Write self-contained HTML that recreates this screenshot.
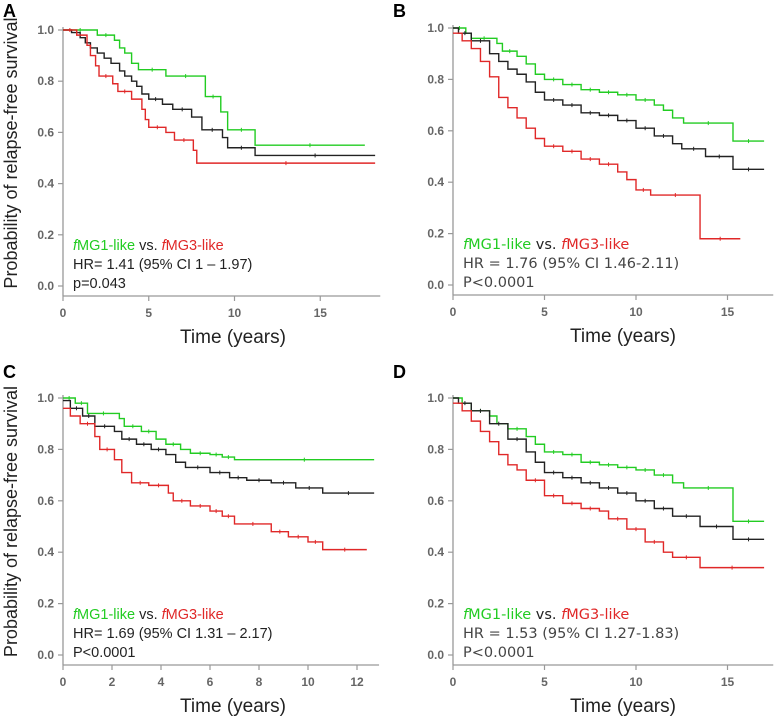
<!DOCTYPE html>
<html><head><meta charset="utf-8">
<style>
html,body{margin:0;padding:0;background:#fff;}
svg{display:block;font-family:"Liberation Sans",sans-serif;}
</style></head>
<body>
<svg id="chart" width="778" height="722" viewBox="0 0 778 722"></svg>
<script>
// Panel A
const aGreen=[[0,1],[2,0.98],[3,0.96],[3.3,0.93],[3.6,0.91],[4,0.87],[4.4,0.845],[6,0.82],[8.3,0.74],[9.2,0.68],[9.6,0.61],[11.2,0.55],[17.6,0.55]];
const aBlack=[[0,1],[0.5,0.99],[1,0.97],[1.3,0.95],[1.6,0.93],[2,0.91],[2.4,0.89],[2.8,0.87],[3.3,0.84],[3.6,0.82],[4,0.80],[4.3,0.78],[4.6,0.75],[5,0.73],[5.8,0.71],[6.4,0.69],[7.5,0.66],[8.1,0.61],[9.3,0.58],[9.6,0.54],[11.2,0.51],[18.2,0.51]];
const aRed=[[0,1],[0.8,0.98],[1.4,0.94],[1.6,0.90],[1.9,0.86],[2.1,0.82],[2.9,0.79],[3.2,0.76],[4,0.73],[4.6,0.69],[4.8,0.65],[5,0.62],[6,0.60],[6.5,0.57],[7.6,0.53],[7.8,0.48],[18.2,0.48]];
// Panel B
const bGreen=[[0,1],[0.7,0.98],[1,0.96],[2.4,0.94],[2.7,0.91],[3.5,0.89],[4,0.86],[4.5,0.82],[5,0.80],[6,0.78],[7,0.76],[8,0.75],[9,0.74],[10,0.72],[11,0.70],[11.5,0.68],[12,0.65],[12.6,0.63],[15.3,0.56],[17,0.56]];
const bBlack=[[0,1],[0.3,0.98],[1,0.95],[2,0.90],[2.5,0.87],[3,0.84],[3.5,0.82],[4,0.79],[4.5,0.75],[5,0.72],[6,0.70],[7,0.67],[8,0.66],[9,0.64],[10,0.61],[11,0.58],[12,0.55],[12.5,0.53],[13.8,0.50],[15.3,0.45],[17,0.45]];
const bRed=[[0,0.98],[0.5,0.95],[1,0.92],[1.5,0.87],[2,0.81],[2.5,0.73],[3,0.69],[3.5,0.65],[4,0.61],[4.5,0.57],[5,0.54],[6,0.52],[7,0.49],[8,0.47],[9,0.44],[9.5,0.41],[10,0.37],[10.8,0.35],[13.5,0.18],[15.7,0.18]];
// Panel C
const cGreen=[[0,1],[0.5,0.98],[1,0.94],[2.3,0.92],[2.5,0.89],[3.2,0.87],[3.8,0.84],[4.2,0.82],[4.8,0.80],[5.2,0.785],[6,0.78],[6.5,0.77],[7,0.76],[12.7,0.76]];
const cBlack=[[0,0.99],[0.3,0.96],[0.8,0.93],[1.3,0.89],[2.1,0.87],[2.4,0.84],[3,0.82],[3.6,0.80],[4.2,0.78],[4.6,0.75],[5,0.73],[6,0.71],[6.8,0.69],[7.5,0.68],[8.5,0.67],[9.5,0.65],[10.6,0.63],[12.7,0.63]];
const cRed=[[0,0.96],[0.3,0.93],[0.7,0.90],[1.3,0.85],[1.5,0.80],[2.1,0.76],[2.4,0.71],[2.8,0.67],[3.5,0.66],[4.3,0.63],[4.5,0.60],[5.2,0.58],[6,0.56],[6.5,0.54],[7,0.51],[8.5,0.48],[9.2,0.46],[10,0.44],[10.6,0.41],[12.4,0.41]];
// Panel D
const dGreen=[[0,1],[0.5,0.98],[1,0.95],[2,0.93],[2.4,0.90],[3,0.88],[4,0.85],[4.5,0.82],[5,0.79],[6,0.78],[7,0.75],[8,0.74],[9,0.73],[10,0.72],[11,0.70],[12,0.67],[12.6,0.65],[15.3,0.52],[17,0.52]];
const dBlack=[[0,1],[0.3,0.98],[1,0.95],[2,0.90],[3,0.84],[4,0.79],[4.5,0.75],[5,0.71],[6,0.69],[7,0.67],[8,0.65],[9,0.63],[10,0.60],[11,0.57],[12,0.54],[13.5,0.50],[15.3,0.45],[17,0.45]];
const dRed=[[0,0.98],[0.5,0.95],[1,0.91],[1.5,0.87],[2,0.83],[2.5,0.78],[3,0.74],[3.5,0.72],[4,0.68],[5,0.62],[6,0.59],[7,0.57],[8,0.56],[8.5,0.53],[9.5,0.49],[10.5,0.44],[11.5,0.40],[12,0.38],[13.5,0.34],[17,0.34]];
const yTicks=["0.0","0.2","0.4","0.6","0.8","1.0"];
const xTicksABD=[0,5,10,15];
const xTicksC=[0,2,4,6,8,10,12];

const NS="http://www.w3.org/2000/svg";
const svg=document.getElementById('chart');
function mk(tag,attrs,parent){const e=document.createElementNS(NS,tag);for(const k in attrs)e.setAttribute(k,attrs[k]);(parent||svg).appendChild(e);return e;}

const panels=[
 {id:'a',L:'A',ox:0,oy:0,x0:63,ppu:17.15,xmax:18.5,y1:30,y0:286,ticks:xTicksABD,series:[aGreen,aBlack,aRed],hr:'HR= 1.41 (95% CI 1 – 1.97)',p:'p=0.043',calibri:false,ylab:true},
 {id:'b',L:'B',ox:390,oy:0,x0:453,ppu:18.3,xmax:17.5,y1:28,y0:285,ticks:xTicksABD,series:[bGreen,bBlack,bRed],hr:'HR = 1.76 (95% CI 1.46-2.11)',p:'P<0.0001',calibri:true,ylab:false},
 {id:'c',L:'C',ox:0,oy:361,x0:63,ppu:24.5,xmax:12.9,y1:398,y0:655,ticks:xTicksC,series:[cGreen,cBlack,cRed],hr:'HR= 1.69 (95% CI 1.31 – 2.17)',p:'P<0.0001',calibri:false,ylab:true},
 {id:'d',L:'D',ox:390,oy:361,x0:453,ppu:18.3,xmax:17.5,y1:398,y0:655,ticks:xTicksABD,series:[dGreen,dBlack,dRed],hr:'HR = 1.53 (95% CI 1.27-1.83)',p:'P<0.0001',calibri:true,ylab:false}
];
const colors=['#22cc22','#222222','#e02828'];
const names=['fmg1-like-curve','overall-curve','fmg3-like-curve'];

panels.forEach(P=>{
 const g=mk('g',{});
 
 
 const X=t=>P.x0+t*P.ppu;
 const Y=v=>P.y0-(P.y0-P.y1)*v;
 const lt=mk('text',{x:P.ox+3,y:P.oy+17,'font-size':18,'font-weight':'bold',fill:'#000'},g);
 lt.textContent=P.L;
 
 
 const axisY=P.y0+10;
 const yl=mk('line',{x1:P.x0,y1:Y(1)-3,x2:P.x0,y2:axisY,stroke:'#999','stroke-width':1.3},g);
 
 
 const xl=mk('line',{x1:P.x0,y1:axisY,x2:X(P.xmax),y2:axisY,stroke:'#999','stroke-width':1.3},g);
 
 
 yTicks.forEach(s=>{
  const v=parseFloat(s);
  mk('line',{x1:P.x0-5,y1:Y(v),x2:P.x0,y2:Y(v),stroke:'#999','stroke-width':1.2},g);
  const t=mk('text',{x:P.x0-9,y:Y(v)+4,'text-anchor':'end','font-size':12,'font-weight':'bold',fill:'#666'},g);
  t.textContent=s;
  
  
 });
 P.ticks.forEach(v=>{
  mk('line',{x1:X(v),y1:axisY,x2:X(v),y2:axisY+5,stroke:'#999','stroke-width':1.2},g);
  const t=mk('text',{x:X(v),y:axisY+21,'text-anchor':'middle','font-size':12,'font-weight':'bold',fill:'#666'},g);
  t.textContent=v;
  
  
 });
 const xt=mk('text',{x:P.x0+170,y:axisY+47,'text-anchor':'middle','font-size':19,fill:'#222'},g);
 xt.textContent='Time  (years)';
 
 
 if(P.ylab){
  const yt=mk('text',{x:0,y:0,transform:`translate(${P.ox+17},${(P.y0+P.y1)/2-5}) rotate(-90)`,'text-anchor':'middle','font-size':18,fill:'#222'},g);
  yt.textContent='Probability of relapse-free survival';
  
  
 }
 P.series.forEach((s,i)=>{
  let d='M'+X(s[0][0])+','+Y(s[0][1]);
  for(let k=1;k<s.length;k++){d+=' H'+X(s[k][0])+' V'+Y(s[k][1]);}
  const p=mk('path',{d:d,fill:'none',stroke:colors[i],'stroke-width':1.4},g);
  
  
  for(let k=1;k<s.length;k++){
   const xm=(X(s[k-1][0])+X(s[k][0]))/2;
   if(X(s[k][0])-X(s[k-1][0])>12){
    mk('line',{x1:xm,y1:Y(s[k-1][1])-2,x2:xm,y2:Y(s[k-1][1])+2,stroke:colors[i],'stroke-width':1},g);
   }
  }
 });
 const fam=P.calibri?'"DejaVu Sans","Liberation Sans",sans-serif':'"Liberation Sans",sans-serif';
 const lg=mk('text',{x:P.x0+10,y:P.y0-36,'font-size':14.5,'font-family':fam},g);
 
 
 lg.innerHTML='<tspan fill="#22cc22"><tspan font-style="italic">f</tspan>MG1-like</tspan><tspan fill="#222"> vs. </tspan><tspan fill="#e02828"><tspan font-style="italic">f</tspan>MG3-like</tspan>';
 const hr=mk('text',{x:P.x0+10,y:P.y0-17,'font-size':14.5,'font-family':fam,fill:P.calibri?'#444':'#222'},g);
 hr.textContent=P.hr;
 
 
 const pv=mk('text',{x:P.x0+10,y:P.y0+2,'font-size':14.5,'font-family':fam,fill:P.calibri?'#444':'#222'},g);
 pv.textContent=P.p;
 
 
});
</script>
</body></html>
